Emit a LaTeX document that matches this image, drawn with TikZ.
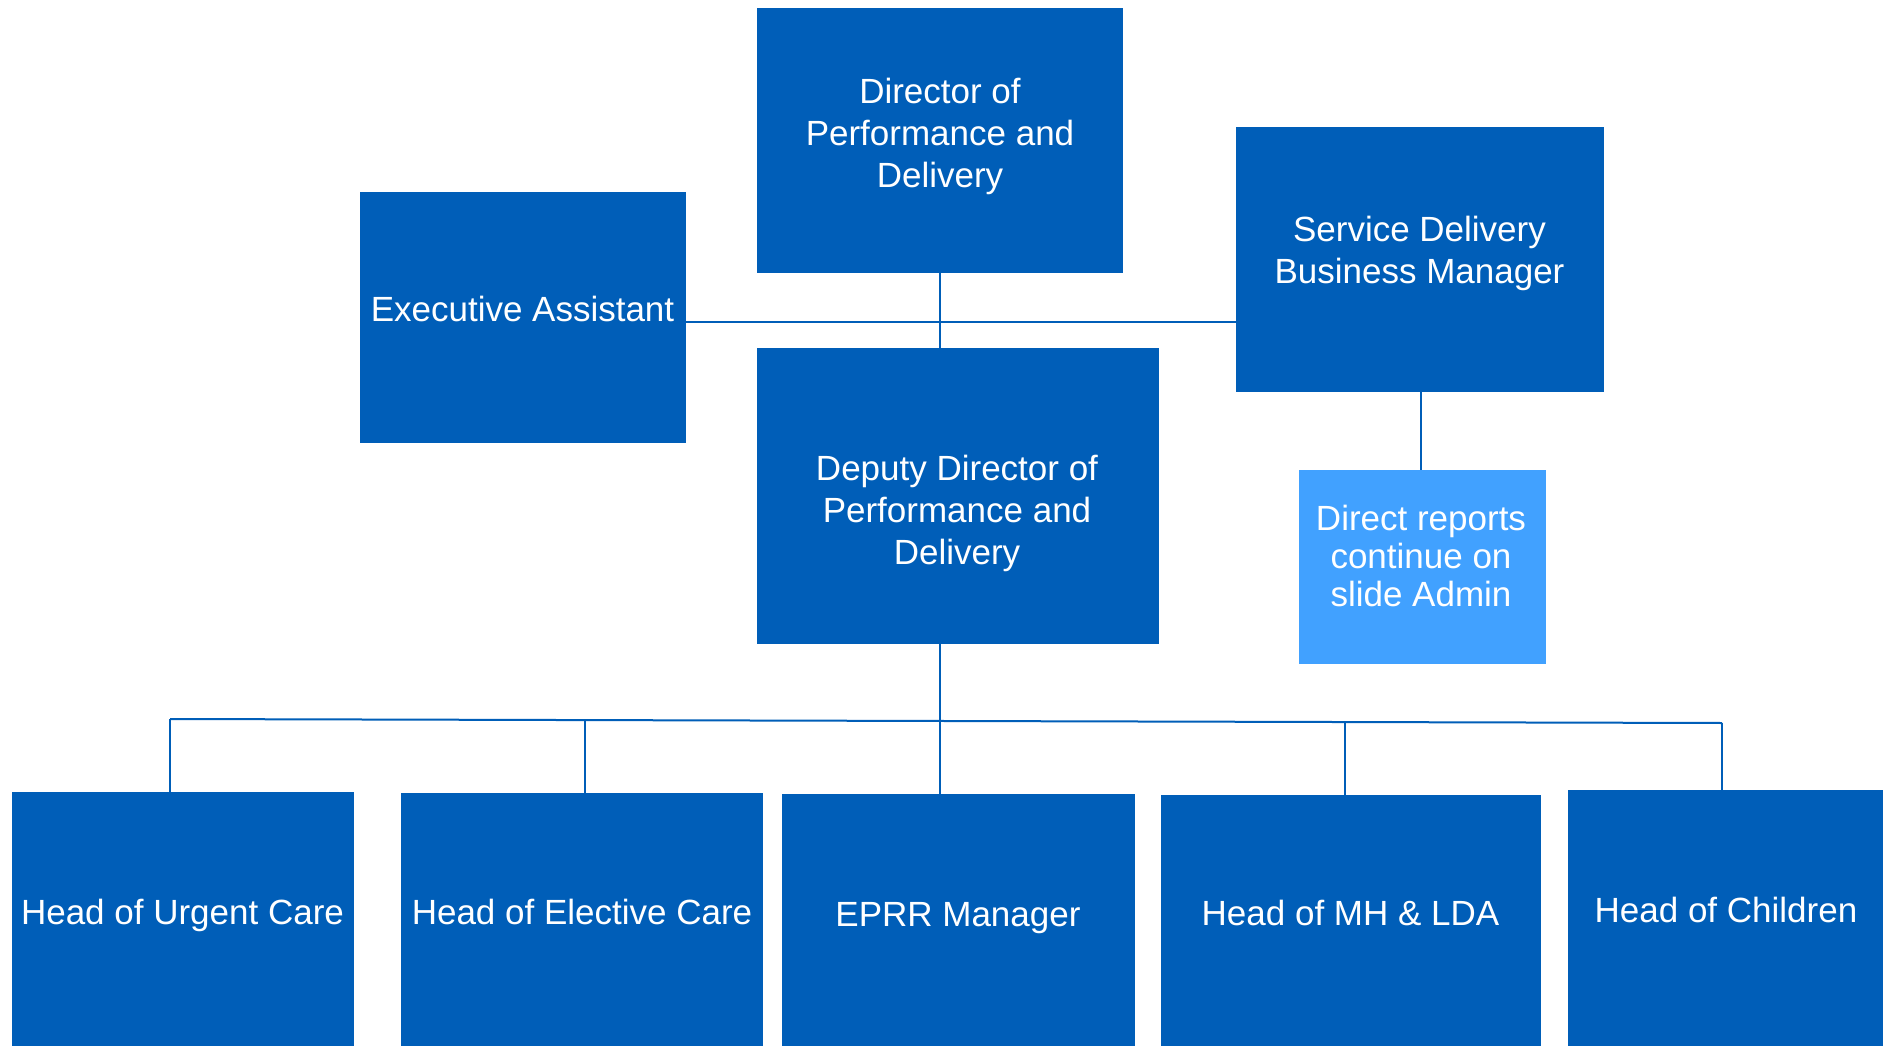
\documentclass[tikz,border=0pt]{standalone}
\usepackage{fontspec}
\setmainfont{Liberation Sans}
\definecolor{nhsblue}{RGB}{0,94,184}
\definecolor{lightblue}{RGB}{65,161,255}
\begin{document}
\begin{tikzpicture}[x=1pt,y=-1pt,
  box/.style={fill=nhsblue, draw=none, inner sep=0pt, anchor=north west},
  lbox/.style={box, fill=lightblue},
  txt/.style={text=white, align=center, inner sep=0pt, font=\fontsize{35}{42}\selectfont},
  conn/.style={draw=nhsblue, line width=2pt}]
\useasboundingbox[fill=white] (0,0) rectangle (1883,1046);
% boxes
\node[box, minimum width=366pt, minimum height=265pt] (dir) at (757,8) {};
\node[box, minimum width=326pt, minimum height=251pt] (ea) at (360,192) {};
\node[box, minimum width=368pt, minimum height=265pt] (sdbm) at (1236,127) {};
\node[box, minimum width=402pt, minimum height=296pt] (dep) at (757,348) {};
\node[lbox, minimum width=247pt, minimum height=194pt] (dr) at (1299,470) {};
\node[box, minimum width=342pt, minimum height=254pt] (urg) at (12,792) {};
\node[box, minimum width=362pt, minimum height=253pt] (ele) at (401,793) {};
\node[box, minimum width=353pt, minimum height=252pt] (eprr) at (782,794) {};
\node[box, minimum width=380pt, minimum height=251pt] (mh) at (1161,795) {};
\node[box, minimum width=315pt, minimum height=256pt] (chi) at (1568,790) {};
% texts
\node[txt] (dirt) at (940,136) {Director of\\Performance and\\Delivery};
\node[txt] (eat) at (522.5,309) {Executive Assistant};
\node[txt] (sdbmt) at (1419.5,253) {Service Delivery\\Business Manager};
\node[txt] (dept) at (957,513) {Deputy Director of\\Performance and\\Delivery};
\node[txt, font=\fontsize{35}{38}\selectfont] (drt) at (1421,556) {Direct reports\\continue on\\slide Admin};
\node[txt] (urgt) at (182.5,915.5) {Head of Urgent Care};
\node[txt] (elet) at (582,911.5) {Head of Elective Care};
\node[txt] (eprrt) at (958,918) {EPRR Manager};
\node[txt] (mht) at (1350.5,913) {Head of MH \& LDA};
\node[txt] (chit) at (1726,910) {Head of Children};
% connectors
\coordinate (hx) at (940,322);
\coordinate (busL) at (170,719);
\coordinate (busR) at (1722,723);
\draw[conn] (dir.south) -- (dep.north -| dir.south);
\draw[conn] (ea.east |- hx) -- (sdbm.west |- hx);
\draw[conn] (sdbm.south -| drt) -- (dr.north -| drt);
\draw[conn] (dep.south -| dir.south) -- (eprr.north -| dir.south);
\draw[conn] (busL) -- (busR);
\draw[conn] (busL) -- (urg.north -| busL);
\draw[conn] (585,720) -- (ele.north -| 585,0);
\draw[conn] (1345,722) -- (mh.north -| 1345,0);
\draw[conn] (busR) -- (chi.north -| busR);
\end{tikzpicture}
\end{document}
